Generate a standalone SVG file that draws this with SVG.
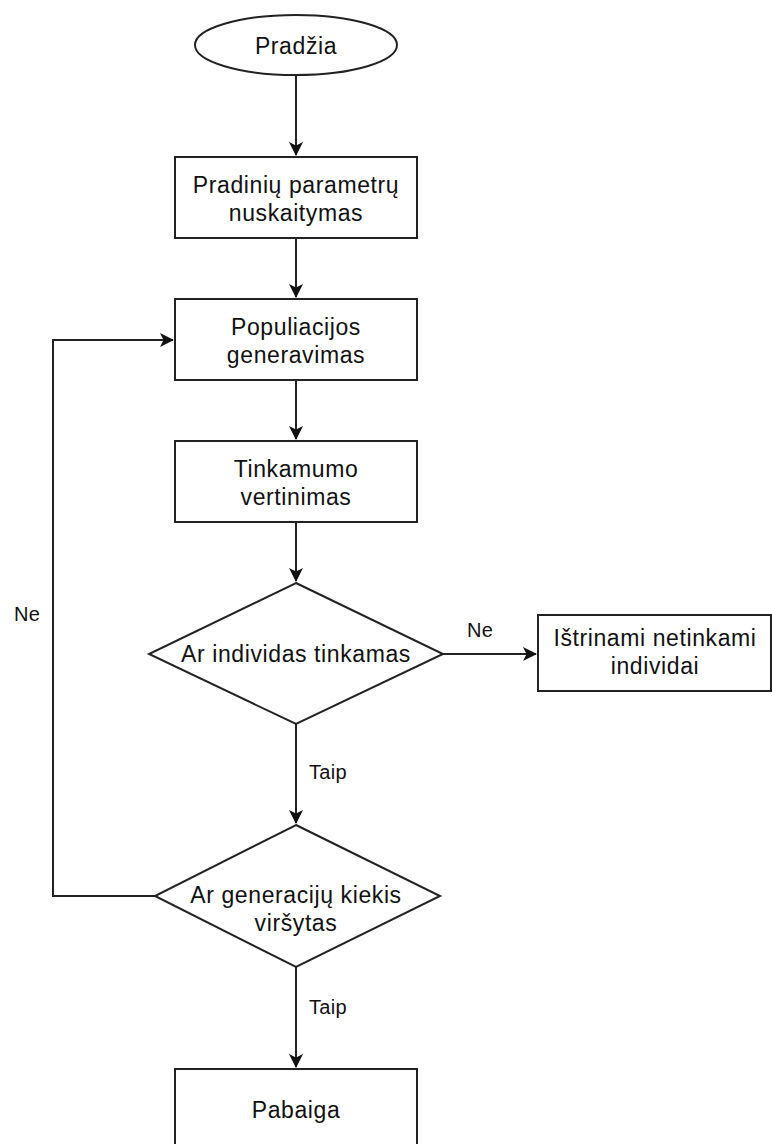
<svg xmlns="http://www.w3.org/2000/svg" width="772" height="1144" viewBox="0 0 772 1144">
<style>
.s{fill:#fff;stroke:#222;stroke-width:2}
.c{fill:none;stroke:#222;stroke-width:2}
text{font-family:"Liberation Sans",Arial,sans-serif;font-size:23px;letter-spacing:0.6px;fill:#111;text-anchor:middle}
.l{font-size:20px;letter-spacing:0.3px}
</style>
<defs>
<marker id="a" markerWidth="14" markerHeight="14" viewBox="0 0 14 14" refX="13" refY="7" orient="auto" markerUnits="userSpaceOnUse">
<path d="M0,0 L14,7 L0,14 L3.5,7 Z" fill="#111"/>
</marker>
</defs>
<g id="connectors">
<path class="c" d="M296,76 V155" marker-end="url(#a)"/>
<path class="c" d="M296,238 V297" marker-end="url(#a)"/>
<path class="c" d="M296,380 V439" marker-end="url(#a)"/>
<path class="c" d="M296,522 V581" marker-end="url(#a)"/>
<path class="c" d="M443,654 H536" marker-end="url(#a)"/>
<path class="c" d="M296,724 V823" marker-end="url(#a)"/>
<path class="c" d="M155,896 H53 V340 H173" marker-end="url(#a)"/>
<path class="c" d="M296,967 V1067" marker-end="url(#a)"/>
<text class="l" x="27" y="621">Ne</text>
<text class="l" x="480" y="637">Ne</text>
<text class="l" x="328" y="779">Taip</text>
<text class="l" x="328" y="1014">Taip</text>
</g>
<g id="start">
<ellipse class="s" cx="296" cy="45" rx="101" ry="30"/>
<text x="296" y="54">Pradžia</text>
</g>
<g id="params">
<rect class="s" x="175" y="157" width="242" height="81"/>
<text x="296" y="193">Pradinių parametrų</text>
<text x="296" y="221">nuskaitymas</text>
</g>
<g id="population">
<rect class="s" x="175" y="299" width="242" height="81"/>
<text x="296" y="335">Populiacijos</text>
<text x="296" y="363">generavimas</text>
</g>
<g id="fitness">
<rect class="s" x="175" y="441" width="242" height="81"/>
<text x="296" y="477">Tinkamumo</text>
<text x="296" y="505">vertinimas</text>
</g>
<g id="decision1">
<path class="s" d="M296,583 L443,654 L296,724 L149,654 Z"/>
<text x="296" y="662">Ar individas tinkamas</text>
</g>
<g id="remove">
<rect class="s" x="538" y="615" width="233" height="76"/>
<text x="655" y="646">Ištrinami netinkami</text>
<text x="655" y="674">individai</text>
</g>
<g id="decision2">
<path class="s" d="M296,825 L440,896 L296,967 L155,896 Z"/>
<text x="296" y="903">Ar generacijų kiekis</text>
<text x="296" y="931">viršytas</text>
</g>
<g id="end">
<rect class="s" x="175" y="1069" width="242" height="90"/>
<text x="296" y="1118">Pabaiga</text>
</g>
</svg>
